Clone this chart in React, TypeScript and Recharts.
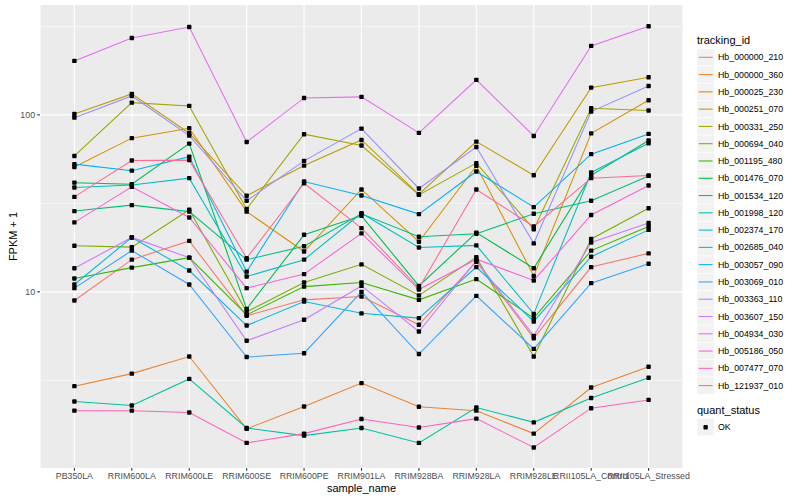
import React from 'react';
import { LineChart, Line, XAxis, YAxis, CartesianGrid, Label } from 'recharts';

const FONT = '"Liberation Sans", Arial, Helvetica, sans-serif';

const sampleNames = [
  'PB350LA', 'RRIM600LA', 'RRIM600LE', 'RRIM600SE', 'RRIM600PE', 'RRIM901LA',
  'RRIM928BA', 'RRIM928LA', 'RRIM928LE', 'RRII105LA_Control', 'RRII105LA_Stressed',
];

const trackingIds = [
  'Hb_000000_210', 'Hb_000000_360', 'Hb_000025_230', 'Hb_000251_070', 'Hb_000331_250',
  'Hb_000694_040', 'Hb_001195_480', 'Hb_001476_070', 'Hb_001534_120', 'Hb_001998_120',
  'Hb_002374_170', 'Hb_002685_040', 'Hb_003057_090', 'Hb_003069_010', 'Hb_003363_110',
  'Hb_003607_150', 'Hb_004934_030', 'Hb_005186_050', 'Hb_007477_070', 'Hb_121937_010',
];

const seriesColors = [
  '#F8766D', '#EA8331', '#D89000', '#C09B00', '#A3A500', '#7CAE00', '#39B600', '#00BB4E',
  '#00BF7D', '#00C1A3', '#00BFC4', '#00BAE0', '#00B0F6', '#35A2FF', '#9590FF', '#C77CFF',
  '#E76BF3', '#FA62DB', '#FF62BC', '#FF6C91',
];

// FPKM + 1 values, one per sample
const hb000000_210 = [8.93, 15.2, 19.4, 7.32, 9.01, 9.41, 6.51, 14.8, 5.47, 13.8, 16.5];
const hb000000_360 = [2.93, 3.45, 4.31, 1.68, 2.25, 3.05, 2.24, 2.13, 1.58, 2.88, 3.77];
const hb000025_230 = [50.8, 73.9, 84.1, 28.4, 16.9, 37.9, 19.2, 51.5, 12.3, 78.6, 121.1];
const hb000251_070 = [101.3, 131.4, 78.8, 34.9, 51.7, 72.2, 35.6, 70.6, 45.6, 142.6, 163.3];
const hb000331_250 = [58.6, 117.3, 112.4, 29.4, 77.8, 67.1, 35.3, 53.4, 22.6, 109.1, 105.8];
const hb000694_040 = [18.2, 17.9, 29.1, 7.71, 11.3, 14.3, 9.55, 15.7, 4.31, 19.9, 29.7];
const hb001195_480 = [11.9, 13.7, 15.6, 7.41, 10.7, 11.3, 9.01, 11.8, 7.1, 17.1, 23.4];
const hb001476_070 = [41.4, 40.6, 68.8, 8.01, 21.0, 26.9, 10.8, 21.6, 13.6, 45.5, 71.6];
const hb001534_120 = [28.6, 30.9, 28.4, 15.2, 18.1, 27.6, 20.5, 21.3, 27.6, 32.7, 45.2];
const hb001998_120 = [2.4, 2.28, 3.22, 1.7, 1.54, 1.7, 1.4, 2.22, 1.83, 2.51, 3.27];
const hb002374_170 = [38.9, 40.2, 43.9, 12.2, 15.2, 27.8, 17.8, 18.3, 7.51, 47.3, 69.2];
const hb002685_040 = [11.0, 20.3, 13.2, 6.45, 8.81, 7.56, 7.1, 13.8, 6.8, 15.8, 22.4];
const hb003057_090 = [52.7, 48.4, 58.1, 13.0, 42.0, 35.0, 27.5, 47.9, 30.1, 60.0, 78.1];
const hb003069_010 = [10.5, 17.1, 11.0, 4.28, 4.5, 10.0, 4.45, 9.49, 4.76, 11.2, 14.4];
const hb003363_110 = [96.5, 128.0, 76.4, 32.7, 55.0, 83.7, 38.4, 65.9, 18.8, 104.4, 145.8];
const hb003607_150 = [13.6, 20.3, 15.6, 5.29, 6.95, 10.8, 5.97, 15.0, 5.64, 19.0, 24.5];
const hb004934_030 = [202, 272, 314, 70.3, 124.7, 126.5, 79.1, 157.8, 76.0, 245.4, 317];
const hb005186_050 = [24.7, 39.2, 26.3, 10.5, 12.6, 21.4, 10.3, 15.3, 11.6, 27.2, 39.9];
const hb007477_070 = [2.13, 2.13, 2.08, 1.4, 1.58, 1.91, 1.71, 1.92, 1.32, 2.2, 2.45];
const hb121937_010 = [34.4, 55.2, 55.5, 15.5, 41.1, 22.9, 10.5, 37.9, 23.4, 43.9, 45.5];

const seriesValues = [
  hb000000_210, hb000000_360, hb000025_230, hb000251_070, hb000331_250, hb000694_040,
  hb001195_480, hb001476_070, hb001534_120, hb001998_120, hb002374_170, hb002685_040,
  hb003057_090, hb003069_010, hb003363_110, hb003607_150, hb004934_030, hb005186_050,
  hb007477_070, hb121937_010,
];

const yTicks = [10, 100];
const yMinorBreaks = [3.1623, 31.623, 316.23];
const yDomain = [1.01, 418];

const quantStatus = ['OK'];

const data = sampleNames.map((s, i) => {
  const row: Record<string, any> = { sample_name: s };
  trackingIds.forEach((id, j) => {
    row[id] = seriesValues[j][i];
  });
  return row;
});

const renderPoint = (props: any) => {
  const { cx, cy, index, dataKey } = props;
  if (cx == null || cy == null) return <g key={`${dataKey}-${index}`} />;
  return (
    <rect
      key={`${dataKey}-${index}`}
      x={cx - 2.2}
      y={cy - 2.2}
      width={4.4}
      height={4.4}
      rx={0.9}
      fill="#000000"
    />
  );
};

const YTitle = () => (
  <text
    x={16.5}
    y={236.5}
    transform="rotate(-90 16.5 236.5)"
    textAnchor="middle"
    fontSize={11}
    fill="#000000"
    fontFamily={FONT}
  >
    FPKM + 1
  </text>
);

const KEY = 17.28;

const LegendOverlay = () => {
  const firstCenter = 57.3;
  const q0 = 427.2;
  return (
    <svg
      width={800}
      height={500}
      style={{ position: 'absolute', left: 0, top: 0, pointerEvents: 'none' }}
      fontFamily={FONT}
    >
      <text x={697} y={44} fontSize={11} fill="#000000">tracking_id</text>
      {trackingIds.map((id, i) => {
        const cy = firstCenter + KEY * i;
        return (
          <g key={id}>
            <rect x={697} y={cy - KEY / 2} width={KEY} height={KEY} fill="#F2F2F2" stroke="#FFFFFF" strokeWidth={0.6} />
            <line x1={698.7} x2={712.6} y1={cy} y2={cy} stroke={seriesColors[i]} strokeWidth={1.07} />
            <text x={718} y={cy} dy="0.35em" fontSize={8.8} fill="#000000">{id}</text>
          </g>
        );
      })}
      <text x={697} y={414} fontSize={11} fill="#000000">quant_status</text>
      {quantStatus.map((q, i) => {
        const cy = q0 + KEY * i;
        return (
          <g key={q}>
            <rect x={697} y={cy - KEY / 2} width={KEY} height={KEY} fill="#F2F2F2" stroke="#FFFFFF" strokeWidth={0.6} />
            <rect x={697 + KEY / 2 - 2.2} y={cy - 2.2} width={4.4} height={4.4} rx={0.9} fill="#000000" />
            <text x={718} y={cy} dy="0.35em" fontSize={8.8} fill="#000000">{q}</text>
          </g>
        );
      })}
    </svg>
  );
};

export default function App() {
  return (
    <div
      style={{
        position: 'absolute',
        left: 0,
        top: 0,
        width: 800,
        height: 500,
        background: '#FFFFFF',
        fontFamily: FONT,
      }}
    >
      <LineChart
        width={800}
        height={500}
        data={data}
        margin={{ top: 5, right: 117, bottom: 0, left: 0 }}
      >
        <CartesianGrid
          fill="#EBEBEB"
          stroke="#FFFFFF"
          strokeWidth={0.55}
          horizontalValues={yMinorBreaks}
          vertical={false}
        />
        <CartesianGrid stroke="#FFFFFF" strokeWidth={1.1} horizontalValues={yTicks} />
        <XAxis
          dataKey="sample_name"
          type="category"
          padding={{ left: 34.4, right: 34.4 }}
          interval={0}
          height={32}
          axisLine={false}
          tickLine={{ stroke: '#333333', strokeWidth: 1.07 }}
          tickSize={2.75}
          tickMargin={2.2}
          tick={{ fill: '#4D4D4D', fontSize: 8.8, fontFamily: FONT }}
        >
          <Label
            value="sample_name"
            position="insideBottom"
            offset={8}
            style={{ fontSize: 11, fill: '#000000', fontFamily: FONT }}
          />
        </XAxis>
        <YAxis
          type="number"
          scale="log"
          domain={yDomain}
          allowDataOverflow
          ticks={yTicks}
          width={40}
          axisLine={false}
          tickLine={{ stroke: '#333333', strokeWidth: 1.07 }}
          tickSize={2.75}
          tickMargin={2.2}
          tick={{ fill: '#4D4D4D', fontSize: 8.8, fontFamily: FONT }}
          tickFormatter={(v: number) => String(v)}
        >
          <Label content={YTitle} />
        </YAxis>
        {trackingIds.map((id, j) => (
          <Line
            key={id}
            type="linear"
            dataKey={id}
            stroke={seriesColors[j]}
            strokeWidth={1.07}
            dot={false}
            activeDot={false}
            isAnimationActive={false}
          />
        ))}
        {trackingIds.map((id) => (
          <Line
            key={`${id}-pts`}
            type="linear"
            dataKey={id}
            stroke="none"
            strokeWidth={0}
            dot={renderPoint}
            activeDot={false}
            legendType="none"
            isAnimationActive={false}
          />
        ))}
      </LineChart>
      <LegendOverlay />
    </div>
  );
}
